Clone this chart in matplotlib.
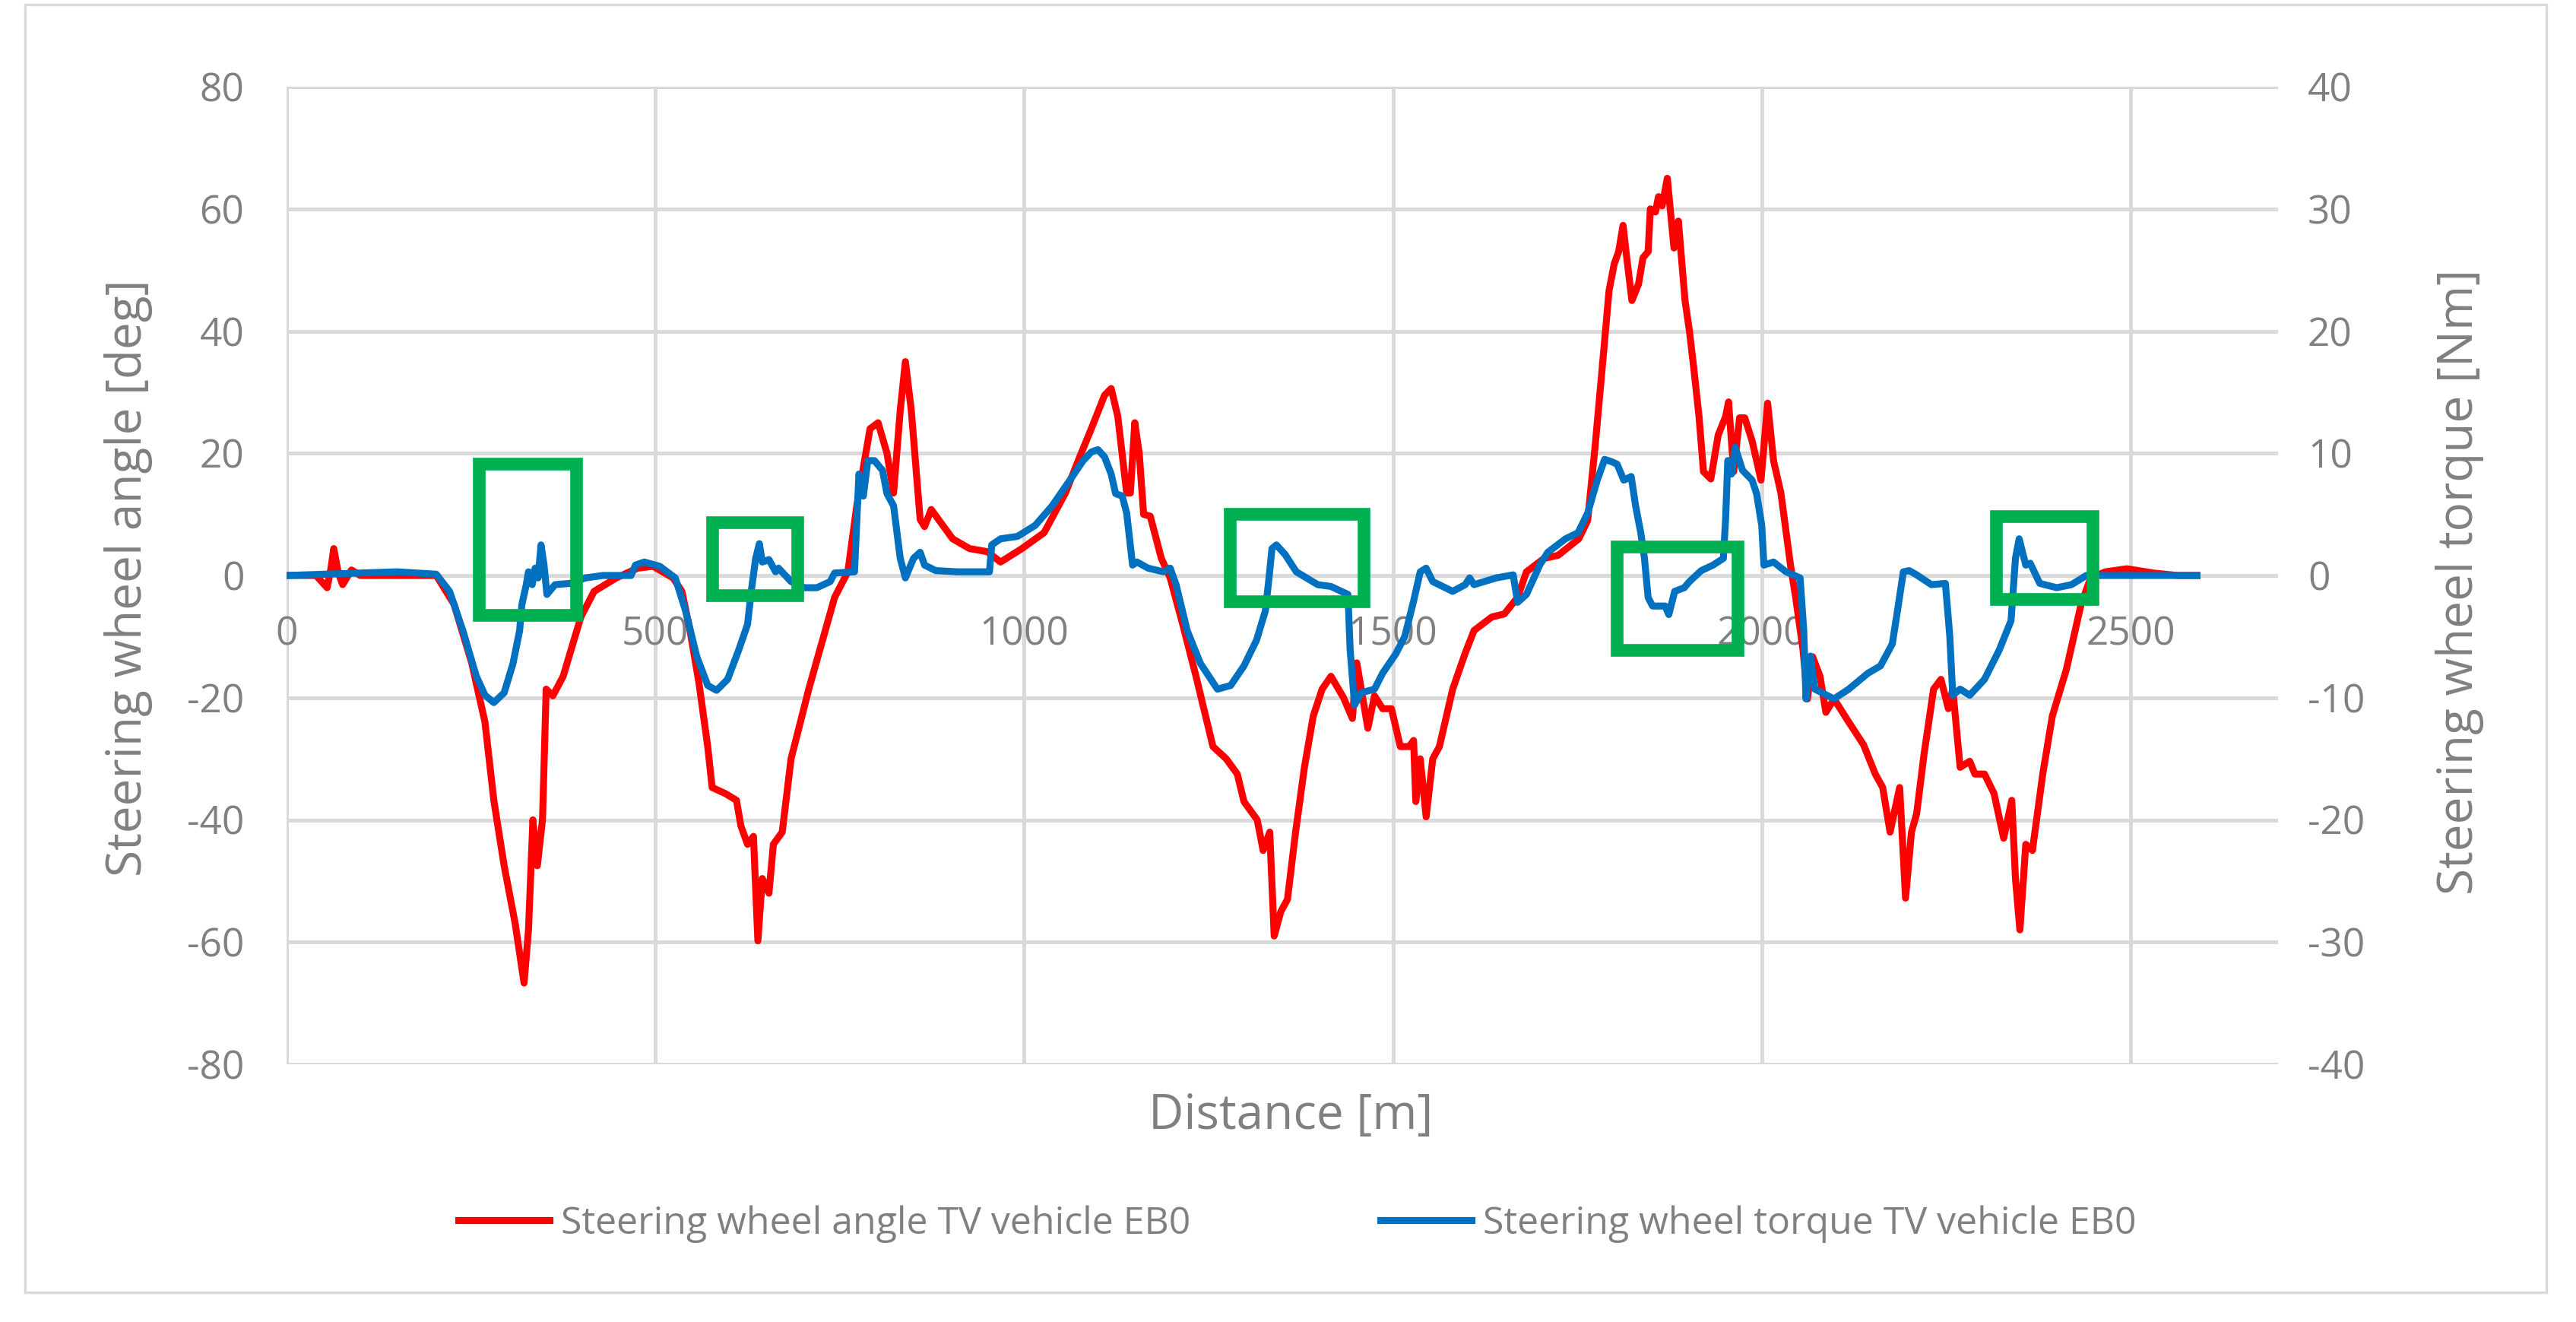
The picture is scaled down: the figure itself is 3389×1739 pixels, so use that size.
import matplotlib
matplotlib.use("Agg")
import matplotlib.pyplot as plt
from matplotlib.patches import Rectangle

# distance [m] and steering wheel angle [deg]
angle_dist = [0, 40, 55, 60, 64, 70, 76, 88, 100, 203, 227, 251, 269, 281, 295, 310, 322, 328, 334, 340,
              347, 352, 361, 375, 399, 417, 447, 476, 497, 524, 536, 547, 559, 571, 577, 595, 610, 616, 625, 633,
              639, 645, 654, 660, 672, 684, 708, 743, 761, 773, 791, 802, 814, 823, 832, 839, 847, 859, 865, 874,
              903, 926, 950, 968, 997, 1027, 1056, 1074, 1091, 1109, 1118, 1127, 1139, 1144, 1150, 1156, 1162, 1171, 1186, 1198,
              1215, 1233, 1256, 1274, 1289, 1298, 1316, 1324, 1333, 1339, 1348, 1357, 1368, 1380, 1392, 1404, 1416, 1433, 1445, 1451,
              1457, 1466, 1475, 1486, 1498, 1510, 1522, 1528, 1531, 1537, 1545, 1554, 1563, 1581, 1598, 1610, 1634, 1651, 1669, 1681,
              1705, 1724, 1752, 1764, 1774, 1783, 1793, 1800, 1806, 1812, 1816, 1824, 1833, 1839, 1846, 1849, 1856, 1860, 1865, 1872,
              1881, 1887, 1896, 1902, 1908, 1915, 1921, 1931, 1941, 1951, 1955, 1962, 1970, 1977, 1987, 1999, 2008, 2016, 2026, 2039,
              2046, 2056, 2062, 2069, 2079, 2087, 2098, 2118, 2138, 2154, 2164, 2174, 2187, 2195, 2203, 2210, 2220, 2233, 2243, 2253,
              2259, 2269, 2282, 2289, 2302, 2315, 2328, 2339, 2344, 2350, 2358, 2367, 2381, 2394, 2413, 2433, 2446, 2466, 2495, 2531,
              2564, 2590]
angle_deg = [0, 0, -2, 1, 4.4, 0.5, -1.5, 0.9, 0, 0, -4.7, -14.3, -24, -36.8, -47.5, -57, -66.7, -58, -40, -47.5,
             -40, -18.6, -19.7, -16.5, -6.8, -2.6, -0.4, 1.2, 1.5, -0.4, -2.6, -9, -17.5, -28, -34.7, -35.7, -36.8, -41, -44, -42.7,
             -59.8, -49.6, -52, -44, -42, -30, -18.6, -3.6, 0.6, 11.3, 24, 25, 20, 13.5, 27, 35, 27, 9.2, 8, 10.8,
             6, 4.4, 3.9, 2.2, 4.4, 7, 13.5, 19, 24, 29.5, 30.6, 26, 13.5, 13.5, 25, 20, 10, 9.7, 2.8, -0.4,
             -8, -16.5, -28, -30, -32.5, -37, -40, -45, -42, -59, -55, -53, -42, -31.4, -23, -18.6, -16.5, -20, -23.4, -14.3,
             -18.6, -25, -19.7, -21.8, -21.8, -28, -28, -27, -37, -30, -39.5, -30, -28, -18.6, -12.7, -9, -6.8, -6.3, -3.6, 0.6,
             2.8, 3.3, 6, 9, 21, 33, 46.6, 51, 53, 57.3, 53, 45, 47.7, 52, 53, 60, 59.5, 62, 60.5, 65,
             53.6, 58, 45, 40, 33.8, 26, 17, 15.8, 23, 26, 28.4, 17, 25.8, 25.8, 22, 15.6, 28.2, 18.8, 13.5, 1.7,
             -3.6, -12.2, -20.2, -13.3, -16.5, -22.4, -20.2, -24, -27.7, -32.5, -34.7, -42, -34.7, -52.8, -42, -39, -29.3, -18.6, -17, -21.8,
             -18.6, -31.4, -30.4, -32.5, -32.5, -35.7, -43, -36.8, -49.6, -58, -44, -45, -32.5, -23, -15.4, -4.7, -0.4, 0.6, 1.1, 0.4,
             0, 0]

# distance [m] and steering wheel torque [Nm]
torque_dist = [0, 100, 150, 203, 221, 239, 257, 269, 281, 295, 307, 316, 319, 325, 328, 333, 337, 341, 345, 349,
               353, 364, 384, 405, 429, 467, 473, 485, 506, 527, 541, 556, 571, 583, 598, 613, 625, 630, 636, 641,
               645, 654, 663, 667, 684, 702, 719, 737, 743, 770, 776, 782, 788, 797, 808, 814, 823, 832, 839, 850,
               859, 865, 880, 909, 953, 956, 968, 991, 1015, 1038, 1062, 1080, 1091, 1100, 1109, 1118, 1124, 1133, 1139, 1147,
               1153, 1168, 1189, 1198, 1206, 1221, 1239, 1262, 1280, 1298, 1315, 1327, 1332, 1336, 1342, 1354, 1369, 1398, 1416, 1439,
               1442, 1448, 1457, 1475, 1486, 1504, 1516, 1528, 1537, 1545, 1554, 1581, 1598, 1604, 1610, 1640, 1663, 1669, 1681, 1699,
               1710, 1734, 1751, 1764, 1777, 1787, 1797, 1804, 1813, 1823, 1829, 1836, 1841, 1846, 1852, 1869, 1874, 1882, 1895, 1902,
               1918, 1934, 1948, 1951, 1954, 1959, 1964, 1974, 1987, 1993, 2000, 2003, 2016, 2033, 2052, 2057, 2060, 2066, 2072, 2098,
               2118, 2144, 2161, 2177, 2184, 2192, 2200, 2210, 2230, 2249, 2255, 2259, 2269, 2282, 2302, 2322, 2338, 2344, 2349, 2358,
               2364, 2377, 2400, 2420, 2440, 2500, 2590]
torque_nm = [0, 0.2, 0.3, 0.1, -1.3, -4.5, -8.2, -9.8, -10.4, -9.6, -7.2, -4.5, -2.4, -0.75, 0.3, -0.75, 0.6, -0.2, 2.5, 0.9,
             -1.55, -0.75, -0.65, -0.2, 0, 0, 0.85, 1.1, 0.75, -0.2, -2.9, -6.6, -9, -9.4, -8.5, -6.1, -4, -1.3, 1.4, 2.6,
             1.1, 1.3, 0.3, 0.6, -0.5, -1.0, -1.0, -0.5, 0.2, 0.3, 8.3, 6.5, 9.4, 9.4, 8.6, 6.7, 5.7, 1.4, -0.2, 1.4,
             1.9, 0.85, 0.4, 0.3, 0.3, 2.5, 3.0, 3.2, 4.1, 5.7, 7.8, 9.4, 10.1, 10.3, 9.7, 8.3, 6.7, 6.5, 5.1, 0.85,
             1.1, 0.6, 0.3, 0.6, -0.75, -4.5, -7.2, -9.3, -9, -7.4, -5.3, -2.9, -0.2, 2.2, 2.5, 1.7, 0.3, -0.75, -0.9, -1.55,
             -6.1, -10.6, -9.6, -9.3, -8, -6.4, -5, -2.1, 0.3, 0.6, -0.5, -1.3, -0.75, -0.2, -0.75, -0.2, 0.05, -2.2, -1.55, 0.85,
             1.9, 3.0, 3.5, 5.1, 7.8, 9.5, 9.3, 9.1, 7.8, 8.1, 5.7, 3.5, 1.4, -1.8, -2.5, -2.5, -3.2, -1.3, -1.0, -0.5,
             0.4, 0.85, 1.4, 4.6, 9.4, 8.3, 10.5, 8.6, 7.8, 6.7, 4.1, 0.85, 1.1, 0.3, -0.2, -4.5, -10.1, -6.6, -9.3, -10.1,
             -9.3, -8.0, -7.4, -5.6, -2.9, 0.3, 0.4, 0.05, -0.75, -0.65, -5, -9.8, -9.3, -9.8, -8.5, -6.1, -3.7, 1.4, 3.0, 0.85,
             1.0, -0.65, -1.0, -0.75, 0, 0, 0]

# highlighted regions: (start m, end m, low deg, high deg)
box_start = [261, 577, 1279, 1803, 2318]
box_end = [393, 693, 1460, 1967, 2449]
box_low = [-6.5, -3.2, -4.2, -12.2, -3.9]
box_high = [18.3, 8.7, 10.1, 4.7, 9.7]

x_ticks = [0, 500, 1000, 1500, 2000, 2500]
left_ticks = list(range(-80, 81, 20))
right_ticks = list(range(-40, 41, 10))

grey = '#808080'
grid_c = '#d9d9d9'
plt.rcParams['font.family'] = ['Open Sans', 'DejaVu Sans']
plt.rcParams['axes.unicode_minus'] = False

fig = plt.figure(figsize=(3389 / 200, 1739 / 200), dpi=200)
fig.patches.append(Rectangle((33 / 3389, 1 - 1700 / 1739), (3350 - 33) / 3389, (1700 - 6) / 1739,
                             transform=fig.transFigure, fill=False, edgecolor=grid_c, lw=1.2, zorder=0))

ax = fig.add_axes([377 / 3389, 1 - 1400 / 1739, 2620 / 3389, 1286 / 1739])
ax.set_xlim(0, 2700)
ax.set_ylim(-80, 80)
ax.set_xticks(x_ticks)
ax.set_yticks(left_ticks)
ax.grid(True, color=grid_c, lw=1.8)
ax.set_axisbelow(True)
for s in ax.spines.values():
    s.set_visible(False)
ax.spines['bottom'].set_position(('data', 0))
ax.tick_params(axis='x', length=0, pad=19, labelsize=18.5, labelcolor=grey)
ax.tick_params(axis='y', length=0, pad=20, labelsize=18.5, labelcolor=grey)
l1, = ax.plot(angle_dist, angle_deg, color='#ff0000', lw=3.3, solid_joinstyle='round',
              label='Steering wheel angle TV vehicle EB0')

ax2 = ax.twinx()
ax2.set_ylim(-40, 40)
ax2.set_yticks(right_ticks)
for s in ax2.spines.values():
    s.set_visible(False)
ax2.tick_params(axis='y', length=0, pad=14, labelsize=18.5, labelcolor=grey)
l2, = ax2.plot(torque_dist, torque_nm, color='#0070c0', lw=3.3, solid_joinstyle='round',
               label='Steering wheel torque TV vehicle EB0')

for x0, x1, y0, y1 in zip(box_start, box_end, box_low, box_high):
    ax2.add_patch(Rectangle((x0, y0), x1 - x0, y1 - y0, transform=ax.transData,
                            fill=False, edgecolor='#00b050', lw=6, zorder=5))

fig.text(0.501, 0.156, 'Distance [m]', ha='center', va='center', fontsize=23, color=grey)
fig.text(0.050, 0.563, 'Steering wheel angle [deg]', ha='center', va='center',
         rotation=90, fontsize=23, color=grey)
fig.text(0.955, 0.560, 'Steering wheel torque [Nm]', ha='center', va='center',
         rotation=90, fontsize=23, color=grey)

fig.legend(handles=[l1, l2], loc='center', bbox_to_anchor=(0.5037, 0.0742), ncol=2,
           frameon=False, fontsize=18, labelcolor=grey, handlelength=2.4,
           handletextpad=0.3, columnspacing=5.0)

fig.savefig('out.png', dpi=200, facecolor='white')
